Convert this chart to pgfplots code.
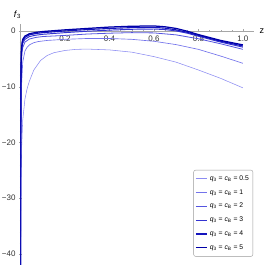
\documentclass[border=0pt]{standalone}
\usepackage{pgfplots}
\pgfplotsset{compat=1.18}
\usepackage{fontspec}
\setmainfont{Liberation Sans}
\definecolor{cA}{rgb}{0.55,0.55,0.95}
\definecolor{cB}{rgb}{0.45,0.45,0.92}
\definecolor{cC}{rgb}{0.33,0.33,0.88}
\definecolor{cD}{rgb}{0.20,0.20,0.82}
\definecolor{cE}{rgb}{0.08,0.08,0.74}
\definecolor{cF}{rgb}{0.0,0.0,0.66}
\begin{document}
\begin{tikzpicture}
\begin{axis}[
  at={(0,0)}, anchor=south west,
  scale only axis, width=233.5pt, height=240pt,
  axis lines=middle, axis line style={gray!70, -},
  xmin=0, xmax=1.05, ymin=-41.8, ymax=1.25,
  xtick={0.2,0.4,0.6,0.8,1.0},
  xticklabels={0.2,0.4,0.6,0.8,1.0},
  ytick={-40,-30,-20,-10,0},
  yticklabels={−40,−30,−20,−10,0},
  hide obscured y ticks=false,
  minor x tick num=3, minor y tick num=4,
  tick style={gray!70},
  major tick length=3pt, minor tick length=1.5pt,
  tick label style={font=\fontsize{8}{9}\selectfont, text=black!80},
  /pgf/number format/assume math mode=true,
  xlabel={z}, ylabel={\textit{f}\textsubscript{3}},
  every axis x label/.style={at={(ticklabel* cs:1)}, anchor=west, font=\fontsize{9}{10}\selectfont, xshift=2pt, yshift=0pt},
  every axis y label/.style={at={(ticklabel* cs:1)}, anchor=south, font=\fontsize{9}{10}\selectfont, xshift=-3pt, yshift=2pt},
  clip=true,
  legend cell align=left,
  legend image code/.code={\draw[#1] (0pt,0pt) -- (11pt,0pt);},
  legend style={at={(axis description cs:0.996,0.392)}, anchor=north east,
    font=\fontsize{6.8}{7.5}\selectfont, draw=gray!80, rounded corners=2pt,
    row sep=3.6pt, inner xsep=1.5pt, inner ysep=3.5pt,
    nodes={inner xsep=2.5pt}},
]
\addplot[color=cA, line width=0.55pt] coordinates {
(0.0003,-44) (0.001,-36) (0.002,-30) (0.005,-21) (0.01,-16) (0.02,-12.2) (0.03,-10.3) (0.04,-9) (0.06,-7) (0.09,-5.3) (0.12,-4.4) (0.15,-3.9) (0.2,-3.5) (0.25,-3.3) (0.3,-3.25) (0.4,-3.4) (0.5,-3.8) (0.6,-4.6) (0.7,-5.6) (0.8,-7.0) (0.9,-8.5) (1.0,-10.2)};
\addlegendentry{\textit{q}\textsubscript{3} = \textit{c}\textsubscript{B} = 0.5}
\addplot[color=cB, line width=0.65pt] coordinates {
(0.0003,-44) (0.0008,-32) (0.002,-20) (0.005,-9.5) (0.01,-5.6) (0.02,-3.6) (0.03,-2.9) (0.04,-2.5) (0.06,-2.1) (0.08,-1.9) (0.12,-1.7) (0.2,-1.5) (0.3,-1.35) (0.4,-1.35) (0.5,-1.5) (0.6,-1.85) (0.7,-2.45) (0.8,-3.3) (0.9,-4.5) (1.0,-5.8)};
\addlegendentry{\textit{q}\textsubscript{3} = \textit{c}\textsubscript{B} = 1}
\addplot[color=cC, line width=0.8pt] coordinates {
(0.0003,-44) (0.0006,-30) (0.001,-22) (0.002,-12) (0.004,-6) (0.007,-3.8) (0.01,-3) (0.02,-2) (0.04,-1.45) (0.07,-1.15) (0.1,-1.0) (0.2,-0.8) (0.3,-0.55) (0.4,-0.4) (0.5,-0.3) (0.6,-0.35) (0.7,-0.7) (0.8,-1.4) (0.9,-2.3) (1.0,-3.3)};
\addlegendentry{\textit{q}\textsubscript{3} = \textit{c}\textsubscript{B} = 2}
\addplot[color=cD, line width=0.95pt] coordinates {
(0.0003,-44) (0.0005,-30) (0.001,-18) (0.002,-9) (0.004,-4.5) (0.007,-2.9) (0.01,-2.2) (0.02,-1.5) (0.04,-1.0) (0.07,-0.75) (0.1,-0.6) (0.2,-0.3) (0.3,-0.05) (0.4,0.15) (0.5,0.3) (0.6,0.35) (0.65,0.25) (0.7,0.0) (0.75,-0.4) (0.8,-0.95) (0.9,-2.0) (1.0,-2.9)};
\addlegendentry{\textit{q}\textsubscript{3} = \textit{c}\textsubscript{B} = 3}
\addplot[color=cE, line width=1.1pt] coordinates {
(0.0003,-44) (0.0005,-28) (0.001,-16) (0.002,-8) (0.004,-4) (0.007,-2.5) (0.01,-1.8) (0.02,-1.15) (0.04,-0.7) (0.07,-0.45) (0.1,-0.3) (0.2,0.0) (0.3,0.25) (0.4,0.45) (0.5,0.6) (0.6,0.65) (0.65,0.5) (0.7,0.2) (0.75,-0.25) (0.8,-0.8) (0.9,-1.85) (1.0,-2.7)};
\addlegendentry{\textit{q}\textsubscript{3} = \textit{c}\textsubscript{B} = 4}
\addplot[color=cF, line width=1.25pt] coordinates {
(0.0003,-44) (0.0005,-26) (0.001,-14) (0.002,-7) (0.004,-3.5) (0.007,-2.1) (0.01,-1.5) (0.02,-0.9) (0.04,-0.5) (0.07,-0.25) (0.1,-0.1) (0.2,0.2) (0.3,0.45) (0.4,0.7) (0.5,0.85) (0.6,0.9) (0.65,0.75) (0.7,0.45) (0.75,-0.05) (0.8,-0.65) (0.9,-1.7) (1.0,-2.5)};
\addlegendentry{\textit{q}\textsubscript{3} = \textit{c}\textsubscript{B} = 5}
\end{axis}
\pgfresetboundingbox
\useasboundingbox (-20.5pt,-3pt) rectangle (246.5pt,264pt);
\end{tikzpicture}
\end{document}
